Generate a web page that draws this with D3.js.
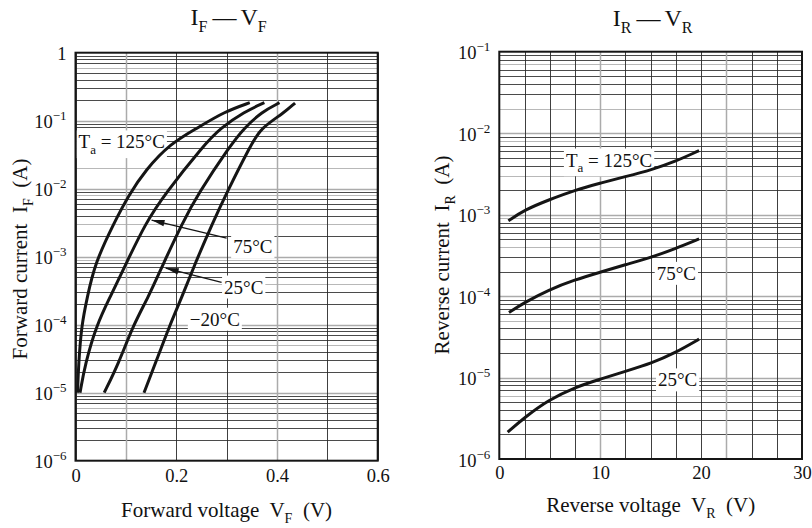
<!DOCTYPE html>
<html><head><meta charset="utf-8">
<script src="https://cdn.jsdelivr.net/npm/d3@7"></script>
<style>
body{margin:0;background:#fff}
svg{display:block}
text{font-family:"Liberation Serif","Times New Roman",serif;fill:#111;white-space:pre}
</style>
</head><body>
<svg id="chart" width="812" height="528"></svg>
<script>
// ---------------- DATA ----------------
// Forward characteristics I_F — V_F (V in volts, I in amperes)
const fwdTemps = ["125°C", "75°C", "25°C", "−20°C"];
const vf125 = [0.004, 0.006, 0.012, 0.0234, 0.038, 0.076, 0.106, 0.139, 0.188, 0.242, 0.295, 0.346];
const if125 = [1e-5, 2.55e-5, 1e-4, 2.53e-4, 7.8e-4, 3.1e-3, 8.1e-3, 1.88e-2, 0.046, 0.078, 0.135, 0.184];
const vf75  = [0.009, 0.019, 0.042, 0.0685, 0.100, 0.139, 0.176, 0.255, 0.288, 0.335, 0.375];
const if75  = [1e-5, 2.63e-5, 1e-4, 2.53e-4, 7.8e-4, 3.1e-3, 8.1e-3, 0.044, 0.078, 0.135, 0.184];
const vf25  = [0.057, 0.085, 0.115, 0.1445, 0.174, 0.212, 0.242, 0.308, 0.335, 0.370, 0.405];
const if25  = [1e-5, 2.63e-5, 1e-4, 2.53e-4, 7.8e-4, 3.1e-3, 8.1e-3, 0.044, 0.078, 0.135, 0.184];
const vfM20 = [0.136, 0.158, 0.1876, 0.211, 0.237, 0.272, 0.298, 0.348, 0.368, 0.413, 0.436];
const ifM20 = [1e-5, 2.63e-5, 1e-4, 2.53e-4, 7.8e-4, 3.1e-3, 8.1e-3, 0.044, 0.078, 0.129, 0.182];
const fwdXTicks = [0, 0.2, 0.4, 0.6];
const fwdYTicks = [1e-6, 1e-5, 1e-4, 1e-3, 1e-2, 1e-1, 1];

// Reverse characteristics I_R — V_R
const revTemps = ["125°C", "75°C", "25°C"];
const vr125 = [0.9, 2.55, 4.86, 7.5, 9.98, 12.46, 15.1, 17.4, 19.8];
const ir125 = [8.4e-4, 1.15e-3, 1.51e-3, 2.0e-3, 2.43e-3, 2.92e-3, 3.55e-3, 4.47e-3, 6.1e-3];
const vr75  = [0.96, 2.55, 4.86, 7.5, 9.98, 12.46, 15.1, 17.4, 19.8];
const ir75  = [6.3e-5, 8.4e-5, 1.19e-4, 1.59e-4, 1.96e-4, 2.42e-4, 3.0e-4, 3.8e-4, 5.03e-4];
const vr25  = [0.83, 2.55, 4.86, 7.5, 9.98, 12.46, 15.1, 17.4, 19.8];
const ir25  = [2.14e-6, 3.27e-6, 5.3e-6, 7.6e-6, 9.55e-6, 1.19e-5, 1.5e-5, 2.0e-5, 2.96e-5];
const revXTicks = [0, 10, 20, 30];
const revYTicks = [1e-6, 1e-5, 1e-4, 1e-3, 1e-2, 1e-1];

// ---------------- HELPERS ----------------
const svg = d3.select("#chart");
const INK = "#151515";

function rich(sel, parts, fs) {
  const small = Math.round(fs * 0.68);
  let shift = 0;
  parts.forEach(p => {
    const target = p.sub ? 0.3 * fs : p.sup ? -0.42 * fs : 0;
    const ts = sel.append("tspan").text(p.t).attr("font-size", (p.sub || p.sup) ? small : fs);
    const dy = target - shift;
    if (dy) ts.attr("dy", dy);
    if (p.dx) ts.attr("dx", p.dx);
    shift = target;
  });
  return sel;
}

function expLabel(v) {
  const e = Math.round(Math.log10(v));
  if (e === 0) return [{t: "1"}];
  return [{t: "10"}, {t: (e < 0 ? "−" : "") + Math.abs(e), sup: true}];
}

function boxedLabel(g, x, y, parts, fs) {
  const t = g.append("text").attr("x", x).attr("y", y).attr("dy", fs * 0.35);
  rich(t, parts, fs);
  const b = t.node().getBBox();
  g.insert("rect", () => t.node())
    .attr("x", b.x - 2).attr("y", b.y - 1)
    .attr("width", b.width + 4).attr("height", b.height + 2)
    .attr("fill", "#fff");
  return t;
}

function arrow(g, x1, y1, x2, y2) {
  g.append("line").attr("x1", x1).attr("y1", y1).attr("x2", x2).attr("y2", y2)
    .attr("stroke", INK).attr("stroke-width", 1.3);
  const a = Math.atan2(y2 - y1, x2 - x1), L = 13, W = 3.2;
  const bx = x2 - L * Math.cos(a), by = y2 - L * Math.sin(a);
  const px = -Math.sin(a) * W, py = Math.cos(a) * W;
  g.append("path")
    .attr("d", `M${x2},${y2}L${bx + px},${by + py}L${bx - px},${by - py}Z`)
    .attr("fill", INK);
}

function panel(opt) {
  const g = svg.append("g");
  const x = d3.scaleLinear(opt.xDomain, opt.xRange);
  const y = d3.scaleLog(opt.yDomain, opt.yRange);
  const grid = g.append("g");
  const labels = g.append("g").attr("text-anchor", "start");
  const curves = g.append("g");

  // horizontal log grid
  const lo = Math.round(Math.log10(opt.yDomain[0])), hi = Math.round(Math.log10(opt.yDomain[1]));
  const hv = [];
  for (let k = lo; k < hi; k++) for (let m = 1; m <= 9; m++) hv.push({v: m * Math.pow(10, k), m, k});
  grid.selectAll(".h").data(hv.filter(d => d.v > opt.yDomain[0] * 1.0001)).join("line")
    .attr("x1", opt.xRange[0]).attr("x2", opt.xRange[1])
    .attr("y1", d => Math.round(y(d.v)) + 0.5).attr("y2", d => Math.round(y(d.v)) + 0.5)
    .attr("stroke", d => (d.m === 1 || (d.m + d.k) % 5 === 0) ? "#ababab" : "#2a2a2a")
    .attr("stroke-width", d => (d.m === 1) ? 1.5 : 0.85);

  // vertical grid
  const vv = d3.range(opt.xDomain[0], opt.xDomain[1] + opt.xStep / 2, opt.xStep);
  grid.selectAll(".v").data(vv.map((v, i) => ({v, i}))).join("line")
    .attr("x1", d => Math.round(x(d.v)) + 0.5).attr("x2", d => Math.round(x(d.v)) + 0.5)
    .attr("y1", opt.yRange[1]).attr("y2", opt.yRange[0])
    .attr("stroke", d => opt.grayCols.includes(d.i) ? "#ababab" : "#2a2a2a")
    .attr("stroke-width", d => opt.grayCols.includes(d.i) ? 1.5 : 0.9);

  // frame
  g.append("rect")
    .attr("x", opt.xRange[0]).attr("y", opt.yRange[1])
    .attr("width", opt.xRange[1] - opt.xRange[0]).attr("height", opt.yRange[0] - opt.yRange[1])
    .attr("fill", "none").attr("stroke", INK).attr("stroke-width", 2);

  // curves
  const line = d3.line().x(d => x(d[0])).y(d => y(d[1])).curve(d3.curveBasis);
  opt.series.forEach(s => {
    curves.append("path").datum(d3.zip(s.v, s.i)).attr("d", line)
      .attr("fill", "none").attr("stroke", INK).attr("stroke-width", 3)
      .attr("stroke-linecap", "butt").attr("stroke-linejoin", "round");
  });

  // x axis
  const xa = d3.axisBottom(x).tickValues(opt.xTicks).tickSize(0).tickFormat(opt.xFmt);
  const xg = g.append("g").attr("transform", `translate(0,${opt.xTickY})`).call(xa);
  xg.select(".domain").remove();
  xg.attr("font-family", null);
  xg.selectAll("text").attr("font-size", 18.5).attr("fill", INK).attr("dy", 0).attr("y", 0);

  // y axis
  const ya = d3.axisLeft(y).tickValues(opt.yTicks).tickSize(0).tickFormat("");
  const yg = g.append("g").attr("transform", `translate(${opt.xRange[0] - 9},0)`).call(ya);
  yg.select(".domain").remove();
  yg.attr("font-family", null);
  yg.selectAll(".tick text").each(function(d) {
    const t = d3.select(this).attr("dy", 7).attr("x", 0).attr("fill", INK);
    rich(t, expLabel(d), 18.5);
  });

  // title
  const cx = (opt.xRange[0] + opt.xRange[1]) / 2;
  const tt = g.append("text").attr("x", cx + 2).attr("y", opt.titleY).attr("text-anchor", "middle");
  rich(tt, opt.title, 24);

  // axis titles
  const xt = g.append("text").attr("x", cx).attr("y", opt.xTitleY).attr("text-anchor", "middle");
  rich(xt, opt.xTitle, 21);
  const yt = g.append("text").attr("text-anchor", "middle")
    .attr("transform", `translate(${opt.yTitleX},${opt.yTitleCY}) rotate(-90)`);
  rich(yt, opt.yTitle, 21);

  return {g: labels, x, y};
}

// ---------------- LEFT PANEL ----------------
const L = panel({
  xDomain: [0, 0.6], xRange: [75.5, 377.7], xStep: 0.1, grayCols: [1, 4],
  yDomain: [1e-6, 1], yRange: [460.7, 52.7],
  xTicks: fwdXTicks, xFmt: d => d === 0 ? "0" : d3.format(".1f")(d), xTickY: 481.5,
  yTicks: fwdYTicks,
  series: [{v: vf125, i: if125}, {v: vf75, i: if75}, {v: vf25, i: if25}, {v: vfM20, i: ifM20}],
  title: [{t: "I"}, {t: "F", sub: true}, {t: "—", dx: 5}, {t: "V", dx: 4}, {t: "F", sub: true}], titleY: 25,
  xTitle: [{t: "Forward voltage  V"}, {t: "F", sub: true}, {t: "  (V)"}], xTitleY: 517,
  yTitle: [{t: "Forward current  I"}, {t: "F", sub: true}, {t: "  (A)"}], yTitleX: 27, yTitleCY: 259
});
const lg = L.g;
boxedLabel(lg, L.x(0.006), L.y(0.049), [{t: "T"}, {t: "a", sub: true}, {t: " = " + fwdTemps[0]}], 19);
arrow(lg, L.x(0.300), L.y(1.87e-3), L.x(0.151), L.y(3.46e-3));
boxedLabel(lg, L.x(0.313), L.y(1.4e-3), [{t: fwdTemps[1]}], 19);
arrow(lg, L.x(0.290), L.y(4.2e-4), L.x(0.179), L.y(6.8e-4));
boxedLabel(lg, L.x(0.295), L.y(3.6e-4), [{t: fwdTemps[2]}], 19);
boxedLabel(lg, L.x(0.227), L.y(1.21e-4), [{t: fwdTemps[3]}], 19);

// ---------------- RIGHT PANEL ----------------
const R = panel({
  xDomain: [0, 30], xRange: [499.3, 802], xStep: 2.5, grayCols: [4, 9],
  yDomain: [1e-6, 1e-1], yRange: [459, 51.7],
  xTicks: revXTicks, xFmt: d3.format("d"), xTickY: 479,
  yTicks: revYTicks,
  series: [{v: vr125, i: ir125}, {v: vr75, i: ir75}, {v: vr25, i: ir25}],
  title: [{t: "I"}, {t: "R", sub: true}, {t: "—", dx: 5}, {t: "V", dx: 4}, {t: "R", sub: true}], titleY: 26,
  xTitle: [{t: "Reverse voltage  V"}, {t: "R", sub: true}, {t: "  (V)"}], xTitleY: 512,
  yTitle: [{t: "Reverse current  I"}, {t: "R", sub: true}, {t: "  (A)"}], yTitleX: 449, yTitleCY: 255
});
const rg = R.g;
boxedLabel(rg, R.x(6.6), R.y(4.7e-3), [{t: "T"}, {t: "a", sub: true}, {t: " = " + revTemps[0]}], 19);
boxedLabel(rg, R.x(15.6), R.y(1.91e-4), [{t: revTemps[1]}], 19);
boxedLabel(rg, R.x(15.73), R.y(9.4e-6), [{t: revTemps[2]}], 19);
</script>
</body></html>
